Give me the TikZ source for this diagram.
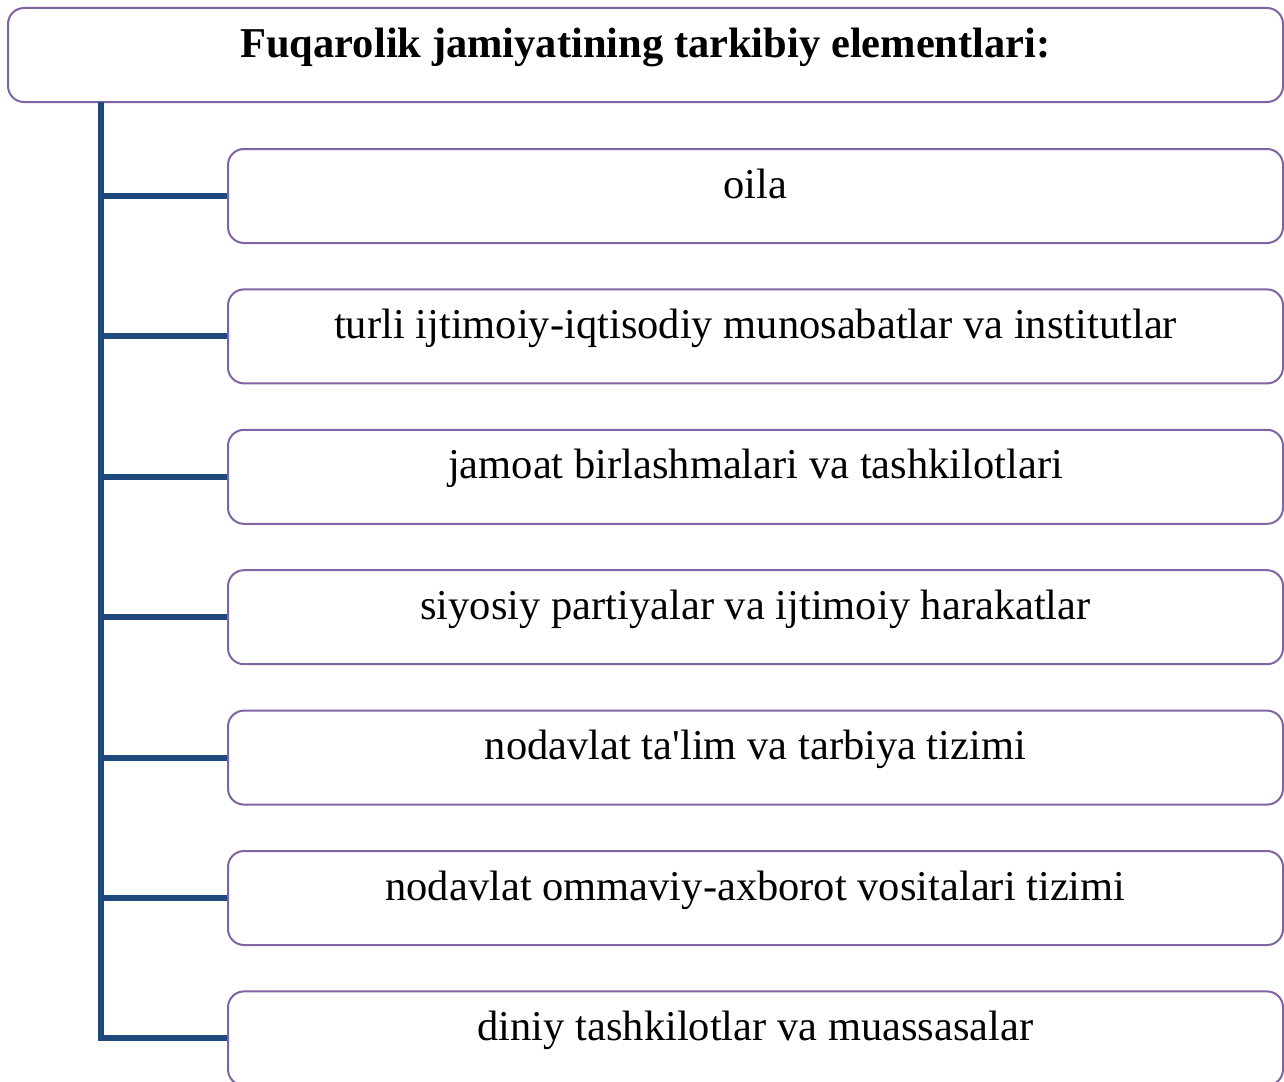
\documentclass[tikz,border=0pt]{standalone}
\usepackage{fontspec}
\setmainfont{Liberation Serif}
\definecolor{boxpurple}{RGB}{128,100,162}
\definecolor{trunkblue}{RGB}{31,73,125}
\begin{document}
\begin{tikzpicture}[x=1pt,y=-1pt,
  box/.style={draw=boxpurple, line width=2pt, rounded corners=16pt, fill=white,
    minimum height=94pt, inner sep=0pt, text height=20pt, text depth=16pt,
    font=\fontsize{42.5}{51}\selectfont},
  titlebox/.style={box, minimum width=1275pt, font=\fontsize{42.5}{51}\selectfont\bfseries},
  childbox/.style={box, minimum width=1055pt},
  trunk/.style={draw=trunkblue, line width=6pt, line join=miter, line cap=butt}]
\useasboundingbox (0,0) rectangle (1284,1081);
\node[titlebox] (title) at (645.5,55) {Fuqarolik jamiyatining tarkibiy elementlari:};
\coordinate (top) at (101,102);
\node[childbox] (b1) at (755.5,196.0) {oila};
\node[childbox] (b2) at (755.5,336.4) {turli ijtimoiy-iqtisodiy munosabatlar va institutlar};
\node[childbox] (b3) at (755.5,476.8) {jamoat birlashmalari va tashkilotlari};
\node[childbox] (b4) at (755.5,617.2) {siyosiy partiyalar va ijtimoiy harakatlar};
\node[childbox] (b5) at (755.5,757.6) {nodavlat ta\textquotesingle lim va tarbiya tizimi};
\node[childbox] (b6) at (755.5,898.0) {nodavlat ommaviy-axborot vositalari tizimi};
\node[childbox] (b7) at (755.5,1038.4) {diniy tashkilotlar va muassasalar};
\draw[trunk] (top) |- (b7.west);
\foreach \b in {b1,b2,b3,b4,b5,b6}{
  \draw[trunk] (\b.west -| top) -- (\b.west);
}
\end{tikzpicture}
\end{document}
